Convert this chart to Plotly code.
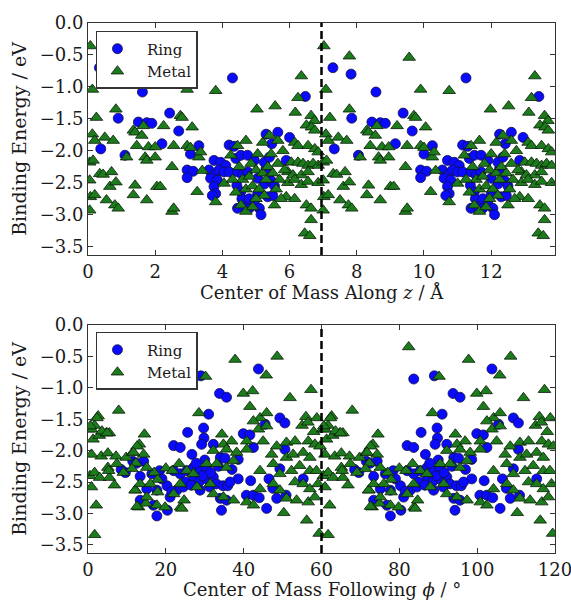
import plotly.graph_objects as go

# ---------------- data (one period each; the chart repeats it) ----------------
PERIOD_Z = 6.95      # Å, dashed line / repeat length (top panel)
PERIOD_PHI = 60.0    # degrees (bottom panel)

ring_z_x = [4.30, 1.62, 0.90, 2.43, 1.50, 1.75, 1.90, 2.70, 2.20, 0.38, 1.10, 3.05, 3.30, 4.20, 4.35,
            2.95, 3.13, 2.95, 3.75, 3.95, 4.10, 3.60, 3.80, 3.90, 4.05, 4.20, 3.65, 3.85, 3.75, 3.80,
            3.70, 4.40, 4.55, 4.75, 4.45, 4.60, 4.75, 4.43, 4.55, 4.58, 4.45, 4.65, 4.80, 4.95, 5.10,
            5.15, 5.30, 5.30, 5.65, 6.00, 5.47, 6.47, 4.95, 5.25, 5.40, 5.05, 5.25, 5.45, 5.55, 5.05,
            5.35, 5.50, 4.80, 5.90, 0.34, 0.88]
ring_z_y = [-0.86, -1.08, -1.49, -1.41, -1.55, -1.56, -1.57, -1.69, -1.89, -1.97, -2.07, -2.05, -1.92, -1.91, -1.93,
            -2.30, -2.32, -2.42, -2.15, -2.18, -2.23, -2.30, -2.36, -2.30, -2.33, -2.33, -2.43, -2.46, -2.56, -2.67,
            -2.70, -2.12, -2.07, -2.07, -2.33, -2.38, -2.33, -2.54, -2.64, -2.75, -2.90, -2.88, -2.90, -2.82, -2.90,
            -3.00, -2.28, -1.74, -1.71, -1.79, -1.89, -1.15, -2.15, -2.18, -2.10, -2.43, -2.52, -2.47, -2.55, -2.67,
            -2.72, -2.70, -2.75, -2.15, -0.70, -0.80]

metal_z_x = [0.07, 0.13, 0.25, 0.13, 0.20, 0.05, 0.15, 0.05, 0.07, 0.20, 0.05, 0.35, 0.45, 0.50, 0.75,
             0.83, 0.70, 0.65, 0.55, 0.83, 0.80, 0.90, 1.15, 1.35, 1.40, 1.45, 1.60, 1.40, 1.35, 1.70,
             1.75, 1.80, 1.65, 1.75, 2.00, 2.00, 2.05, 2.15, 2.25, 2.50, 2.50, 2.55, 2.55, 2.75, 2.80,
             2.95, 2.95, 3.05, 3.10, 3.25, 3.30, 3.35, 3.40, 3.80, 3.80, 4.05, 4.25, 4.45, 4.70, 5.03,
             5.57, 5.20, 5.40, 5.65, 6.35, 6.25, 6.17, 6.64, 6.74, 6.50, 6.65, 6.75, 6.15, 6.25, 6.55,
             6.75, 6.85, 6.05, 6.25, 6.40, 6.55, 6.70, 6.85, 5.95, 6.10, 6.35, 6.55, 5.95, 6.15, 6.35,
             6.55, 6.85, 5.90, 6.15, 6.50, 6.64, 6.64, 6.45, 6.60, 4.50, 4.60, 4.70, 4.80, 4.85, 4.90,
             5.00, 5.05, 5.10, 5.20, 5.25, 5.30, 5.35, 5.45, 5.50, 5.60, 5.65, 5.70, 5.75, 5.80, 4.55,
             4.70, 4.90, 5.00, 5.55, 4.40, 4.30, 5.85, 0.83, 2.61]
metal_z_y = [-0.36, -1.04, -1.48, -1.74, -1.84, -2.18, -2.15, -2.46, -2.72, -2.69, -2.93, -2.36, -2.37, -1.79, -1.84,
             -1.35, -2.33, -2.56, -2.77, -2.49, -2.85, -2.90, -2.10, -1.68, -1.71, -1.92, -1.76, -2.54, -2.69, -2.10,
             -2.15, -1.94, -1.61, -2.77, -1.94, -2.10, -2.56, -2.56, -1.61, -2.25, -2.95, -2.90, -1.92, -1.45, -1.48,
             -1.04, -1.92, -1.95, -1.63, -2.64, -2.10, -2.02, -2.31, -1.06, -2.80, -2.51, -2.07, -1.92, -1.84, -1.35,
             -1.30, -1.87, -1.76, -1.84, -0.83, -1.17, -1.40, -1.45, -1.53, -1.60, -1.63, -1.68, -1.87, -1.92, -1.92,
             -1.97, -2.02, -2.18, -2.18, -2.20, -2.23, -2.20, -2.23, -2.33, -2.38, -2.38, -2.33, -2.50, -2.45, -2.53,
             -2.48, -2.50, -2.72, -2.75, -2.85, -2.90, -3.08, -3.29, -3.33, -2.25, -2.45, -2.60, -2.40, -2.20, -2.55,
             -2.30, -2.05, -2.60, -2.35, -2.70, -2.45, -2.25, -2.05, -2.35, -2.60, -2.20, -2.45, -2.75, -2.00, -2.85,
             -2.95, -2.88, -2.75, -2.85, -2.65, -2.45, -2.30, -0.52, -0.54]

ring_phi_x = [23.7, 29.0, 43.8, 33.8, 35.6, 31.0, 25.6, 29.7, 29.8, 22.0, 23.7, 26.7, 29.2, 32.2, 34.0,
              35.2, 39.9, 41.6, 38.6, 41.8, 45.5, 49.3, 50.6, 42.5, 50.6, 9.6, 11.5, 14.3, 13.4, 16.4,
              18.4, 15.1, 17.7, 20.3, 13.4, 16.8, 17.7, 20.4, 21.1, 22.8, 24.5, 22.0, 23.7, 25.4, 27.1,
              28.8, 30.5, 27.1, 28.8, 30.5, 32.2, 28.8, 31.3, 33.0, 34.7, 35.9, 34.0, 35.6, 34.3, 38.6,
              40.7, 42.5, 45.9, 48.5, 50.9, 55.3, 49.3, 25.0, 26.5, 29.5, 31.5, 33.5, 37.0, 44.0, 46.5,
              47.5, 19.0, 21.5, 12.5, 8.5, 36.5, 30.0, 27.8]
ring_phi_y = [-0.86, -0.81, -0.70, -1.09, -1.15, -1.42, -1.71, -1.64, -1.80, -1.92, -1.95, -2.06, -1.90, -1.90, -2.11,
              -2.12, -1.73, -1.75, -2.14, -2.48, -1.58, -1.48, -1.56, -1.95, -1.98, -2.35, -2.17, -2.17, -2.41, -2.37,
              -2.32, -2.61, -2.63, -2.56, -2.79, -2.87, -3.04, -2.95, -2.74, -2.63, -2.58, -2.32, -2.37, -2.32, -2.27,
              -2.32, -2.27, -2.45, -2.48, -2.45, -2.42, -2.63, -2.58, -2.53, -2.56, -2.56, -2.76, -2.79, -2.95, -2.45,
              -2.71, -2.71, -2.92, -2.76, -2.71, -2.45, -2.29, -2.50, -2.55, -2.40, -2.35, -2.25, -2.30, -2.75, -2.45,
              -2.60, -2.45, -2.65, -2.20, -2.30, -2.50, -2.15, -2.20]

metal_phi_x = [0.3, 0.9, 1.7, 2.6, 1.3, 2.9, 4.7, 5.5, 0.9, 3.4, 5.1, 7.2, 5.1, 0.5, 1.7,
               3.0, 5.5, 0.9, 2.1, 1.7, 7.9, 6.8, 9.8, 11.5, 12.3, 13.2, 14.5, 12.2, 13.0, 14.9,
               17.0, 17.9, 17.9, 20.0, 21.7, 23.4, 23.8, 24.7, 28.5, 30.2, 22.4, 37.8, 48.6, 45.8, 39.9,
               42.3, 41.6, 51.9, 57.3, 56.0, 58.8, 44.2, 45.9, 42.5, 43.8, 45.9, 40.8, 34.4, 36.9, 34.8,
               45.0, 47.2, 48.5, 51.0, 53.2, 56.6, 58.3, 59.6, 51.0, 52.7, 55.3, 57.0, 52.3, 54.4, 57.0,
               58.7, 53.2, 55.3, 57.0, 59.1, 51.0, 53.6, 56.6, 58.3, 50.3, 56.2, 59.4, 12.6, 14.3, 11.7,
               15.1, 11.3, 7.4, 5.3, 9.1, 12.1, 13.4, 16.0, 17.7, 19.8, 24.1, 22.0, 15.1, 12.6, 32.2,
               34.8, 37.4, 40.8, 42.5, 25.4, 27.1, 30.5, 33.1, 35.6, 37.4, 32.2, 35.6, 38.2, 40.8, 23.7,
               28.0, 31.4, 44.2, 47.6, 49.3, 44.2, 47.6, 49.3, 0.6, 2.3, 3.6, 4.9, 55.0, 56.5, 58.0]
metal_phi_y = [-1.66, -1.66, -1.60, -1.45, -1.82, -1.76, -1.72, -1.72, -2.06, -2.09, -2.04, -2.09, -2.27, -2.40, -2.35,
               -2.43, -2.43, -2.58, -2.87, -3.34, -1.36, -2.55, -2.11, -2.03, -2.20, -1.90, -1.74, -2.63, -2.90, -2.84,
               -2.35, -2.46, -2.66, -2.28, -2.32, -2.21, -2.90, -2.79, -1.40, -0.82, -0.35, -0.55, -0.50, -0.80, -1.09,
               -1.05, -1.30, -1.16, -1.03, -1.46, -1.48, -1.48, -1.40, -1.53, -1.66, -1.61, -1.85, -1.74, -1.85, -1.90,
               -1.85, -2.06, -1.93, -1.87, -1.85, -1.85, -1.90, -1.93, -2.11, -2.06, -2.03, -2.11, -2.32, -2.24, -2.32,
               -2.32, -2.50, -2.53, -2.61, -2.53, -2.76, -2.79, -2.82, -2.74, -2.99, -3.11, -3.32, -1.93, -2.06, -2.03,
               -2.27, -2.29, -2.21, -2.32, -2.35, -2.63, -2.53, -2.53, -2.87, -2.90, -2.92, -2.69, -2.74, -2.89, -2.69,
               -2.74, -2.79, -2.82, -2.87, -2.32, -2.37, -2.21, -2.21, -2.27, -2.16, -2.00, -1.98, -2.03, -1.98, -2.53,
               -2.58, -2.53, -2.61, -2.53, -2.63, -2.32, -2.21, -2.37, -1.61, -1.48, -1.69, -1.72, -1.60, -1.55, -1.70]

z_ticks = [0, 2, 4, 6, 8, 10, 12]
phi_ticks = [0, 20, 40, 60, 80, 100, 120]
y_ticks = [0.0, -0.5, -1.0, -1.5, -2.0, -2.5, -3.0, -3.5]
y_ticktext = ["0.0", "\u22120.5", "\u22121.0", "\u22121.5", "\u22122.0", "\u22122.5", "\u22123.0", "\u22123.5"]

X_TITLE_Z = "Center of Mass Along <i>z</i> / Å"
X_TITLE_PHI = "Center of Mass Following <i>ϕ</i> / °"
Y_TITLE = "Binding Energy / eV"

X_RANGE_Z = [0, 2 * PERIOD_Z]
X_RANGE_PHI = [0, 2 * PERIOD_PHI + 0.001]
Y_RANGE = [-3.63, 0]


def two_periods(xs, period):
    return list(xs) + [v + period for v in xs]


FONT = "DejaVu Serif"
TXT = "#1a1a1a"
NB = "\u00a0\u00a0"
RING_STYLE = dict(symbol="circle", size=10, color="#0a0aff", line=dict(color="#111144", width=0.8))
METAL_STYLE = dict(symbol="triangle-up", size=11, color="#1c7c1c", line=dict(color="#0a1a0a", width=0.8))

fig = go.Figure()
fig.add_trace(go.Scatter(x=two_periods(ring_z_x, PERIOD_Z), y=ring_z_y * 2, mode="markers",
                         name=NB + "Ring", marker=RING_STYLE, xaxis="x", yaxis="y", legend="legend"))
fig.add_trace(go.Scatter(x=two_periods(metal_z_x, PERIOD_Z), y=metal_z_y * 2, mode="markers",
                         name=NB + "Metal", marker=METAL_STYLE, xaxis="x", yaxis="y", legend="legend"))
fig.add_trace(go.Scatter(x=two_periods(ring_phi_x, PERIOD_PHI), y=ring_phi_y * 2, mode="markers",
                         name=NB + "Ring", marker=RING_STYLE, xaxis="x2", yaxis="y2", legend="legend2"))
fig.add_trace(go.Scatter(x=two_periods(metal_phi_x, PERIOD_PHI), y=metal_phi_y * 2, mode="markers",
                         name=NB + "Metal", marker=METAL_STYLE, xaxis="x2", yaxis="y2", legend="legend2"))

dash_line = dict(color="black", width=2.5, dash="8px,4px")
fig.add_shape(type="line", xref="x", yref="y domain", x0=PERIOD_Z, x1=PERIOD_Z, y0=0, y1=1, line=dash_line)
fig.add_shape(type="line", xref="x2", yref="y2 domain", x0=PERIOD_PHI, x1=PERIOD_PHI, y0=0, y1=1, line=dash_line)

axis_common = dict(showline=True, linecolor="#333333", linewidth=1, mirror="allticks", ticks="inside",
                   ticklen=5, tickcolor="#333333", showgrid=False, zeroline=False, automargin=False,
                   ticklabeloverflow="allow",
                   tickfont=dict(family=FONT, size=18, color=TXT))
xtitle_font = dict(family=FONT, size=18, color=TXT)
ytitle_font = dict(family=FONT, size=19, color=TXT)

# x-axis titles as annotations placed under each panel
fig.add_annotation(text=X_TITLE_Z, xref="x domain", yref="y domain", x=0.5, y=0,
                   xanchor="center", yanchor="middle", yshift=-38, showarrow=False, font=xtitle_font)
fig.add_annotation(text=X_TITLE_PHI, xref="x2 domain", yref="y2 domain", x=0.5, y=0,
                   xanchor="center", yanchor="middle", yshift=-36, showarrow=False, font=xtitle_font)

fig.update_layout(
    width=571, height=601,
    margin=dict(l=88, r=16, t=23, b=48),
    paper_bgcolor="white", plot_bgcolor="white",
    font=dict(family=FONT, size=17, color=TXT),
    xaxis=dict(domain=[0, 1], anchor="y", range=X_RANGE_Z, tickvals=z_ticks, **axis_common),
    yaxis=dict(domain=[0.5623, 1], anchor="x", range=Y_RANGE, tickvals=y_ticks, ticktext=y_ticktext,
               title=dict(text=Y_TITLE, font=ytitle_font, standoff=8),
               **axis_common),
    xaxis2=dict(domain=[0, 1], anchor="y2", range=X_RANGE_PHI, tickvals=phi_ticks, **axis_common),
    yaxis2=dict(domain=[0, 0.4302], anchor="x2", range=Y_RANGE, tickvals=y_ticks, ticktext=y_ticktext,
                title=dict(text=Y_TITLE, font=ytitle_font, standoff=8),
                **axis_common),
    legend=dict(x=0.017, y=0.985, xanchor="left", yanchor="top", bgcolor="white",
                bordercolor="#333333", borderwidth=1.5, font=dict(family=FONT, size=15, color=TXT)),
    legend2=dict(x=0.017, y=0.417, xanchor="left", yanchor="top", bgcolor="white",
                 bordercolor="#333333", borderwidth=1.5, font=dict(family=FONT, size=15, color=TXT)),
)

fig.write_html("out.html")
